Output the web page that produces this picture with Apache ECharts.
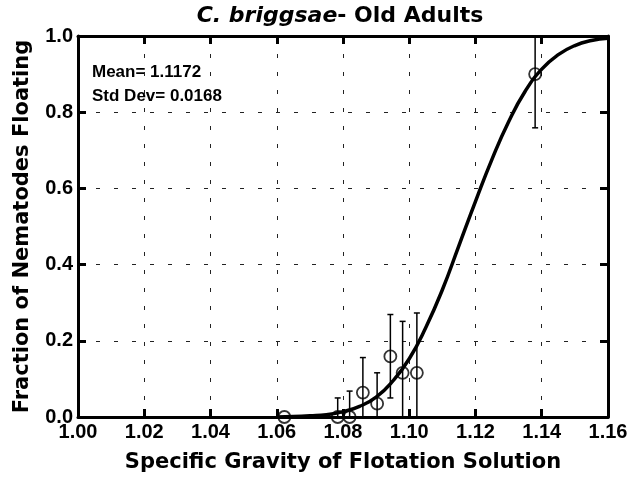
<!DOCTYPE html>
<html style="height: 100%">
<head>
    <meta charset="utf-8">
    <script src="https://cdn.jsdelivr.net/npm/echarts@6/dist/echarts.min.js"></script>
</head>
<body style="height: 100%;margin: 0;background: #fff">
<div id="chart1" style="width: 642px; height: 478px;"></div>
<script type="text/javascript">
// 观测点：比重、漂浮比例、误差棒上下限
var gravity   = [1.0623, 1.0784, 1.0820, 1.0860, 1.0903, 1.0943, 1.0980, 1.1023, 1.1380];
var fraction  = [0.000, 0.000, 0.000, 0.064, 0.035, 0.159, 0.116, 0.116, 0.900];
var errLow    = [0.000, 0.000, 0.000, 0.000, 0.000, 0.050, 0.000, 0.000, 0.759];
var errHigh   = [0.000, 0.050, 0.068, 0.156, 0.116, 0.269, 0.251, 0.273, 1.040];
// 拟合曲线
var curveX = [1.060, 1.065, 1.070, 1.075, 1.080, 1.085, 1.090, 1.095, 1.100, 1.105, 1.110,
              1.115, 1.120, 1.125, 1.130, 1.135, 1.140, 1.145, 1.150, 1.155, 1.160];
var curveY = [0.000, 0.001, 0.003, 0.006, 0.014, 0.028, 0.052, 0.094, 0.153, 0.235, 0.334,
              0.450, 0.566, 0.677, 0.775, 0.855, 0.913, 0.951, 0.975, 0.988, 0.994];
var xTicks = ['1.00', '1.02', '1.04', '1.06', '1.08', '1.10', '1.12', '1.14', '1.16'];
var yTicks = ['0.0', '0.2', '0.4', '0.6', '0.8', '1.0'];

var FONT = '"Liberation Sans", Arial, sans-serif';
var WIDE = '"DejaVu Sans", sans-serif';
var myChart = echarts.init(document.getElementById('chart1'));

var pts = gravity.map(function (g, i) { return [g, fraction[i]]; });
var bars = gravity.map(function (g, i) { return [g, errLow[i], errHigh[i]]; });
var line = curveX.map(function (x, i) { return [x, curveY[i]]; });

var gridLine = {show: true, lineStyle: {color: '#222', width: 1, type: [4, 14]}};
var frameLine = {show: true, onZero: false, lineStyle: {color: '#000', width: 3}};
var ticks = {show: true, inside: true, length: 8, lineStyle: {color: '#000', width: 3}};

var option = {
    animation: false,
    backgroundColor: '#fff',
    title: {
        text: '{i|C. briggsae}{b|- Old Adults}',
        left: 335, top: 0, textAlign: 'center',
        textStyle: {
            rich: {
                i: {fontFamily: WIDE, fontSize: 22, fontStyle: 'italic', fontWeight: 'bold', color: '#000'},
                b: {fontFamily: WIDE, fontSize: 22, fontWeight: 'bold', color: '#000'}
            }
        }
    },
    grid: {left: 78, right: 34, top: 36, bottom: 60, containLabel: false},
    xAxis: [{
        type: 'value', min: 1.00, max: 1.16, interval: 0.02,
        axisLine: frameLine, axisTick: ticks, splitLine: gridLine,
        axisLabel: {
            margin: 5, color: '#000', fontFamily: FONT, fontSize: 20, fontWeight: 'bold',
            formatter: function (v) { return xTicks[Math.round((v - 1.00) / 0.02)]; }
        },
        name: 'Specific Gravity of Flotation Solution',
        nameLocation: 'middle', nameGap: 35,
        nameTextStyle: {color: '#000', fontFamily: WIDE, fontSize: 21, fontWeight: 'bold'}
    }, {
        type: 'value', position: 'top', min: 1.00, max: 1.16, interval: 0.02,
        axisLine: frameLine, axisTick: ticks, axisLabel: {show: false}, splitLine: {show: false}
    }],
    yAxis: [{
        type: 'value', min: 0, max: 1, interval: 0.2,
        axisLine: frameLine, axisTick: ticks, splitLine: gridLine,
        axisLabel: {
            margin: 5, color: '#000', fontFamily: FONT, fontSize: 20, fontWeight: 'bold',
            formatter: function (v) { return yTicks[Math.round(v / 0.2)]; }
        },
        name: 'Fraction of Nematodes Floating',
        nameLocation: 'middle', nameGap: 45,
        nameTextStyle: {color: '#000', fontFamily: WIDE, fontSize: 21, fontWeight: 'bold'}
    }, {
        type: 'value', position: 'right', min: 0, max: 1, interval: 0.2,
        axisLine: frameLine, axisTick: ticks, axisLabel: {show: false}, splitLine: {show: false}
    }],
    graphic: [{
        type: 'text', left: 92, top: 64,
        style: {text: 'Mean= 1.1172', fill: '#000', font: 'bold 17px ' + FONT}
    }, {
        type: 'text', left: 92, top: 88,
        style: {text: 'Std Dev= 0.0168', fill: '#000', font: 'bold 17px ' + FONT}
    }],
    series: [{
        type: 'line', data: line, smooth: true, symbol: 'none', clip: true,
        lineStyle: {color: '#000', width: 3.5}, z: 3
    }, {
        type: 'custom', data: bars, clip: true, z: 4,
        renderItem: function (params, api) {
            var x = api.value(0);
            var lo = api.coord([x, api.value(1)]);
            var hi = api.coord([x, api.value(2)]);
            var w = 3;
            var style = {stroke: '#000', lineWidth: 1.5};
            return {
                type: 'group',
                children: [
                    {type: 'line', shape: {x1: lo[0], y1: lo[1], x2: hi[0], y2: hi[1]}, style: style},
                    {type: 'line', shape: {x1: hi[0] - w, y1: hi[1], x2: hi[0] + w, y2: hi[1]}, style: style},
                    {type: 'line', shape: {x1: lo[0] - w, y1: lo[1], x2: lo[0] + w, y2: lo[1]}, style: style}
                ]
            };
        }
    }, {
        type: 'scatter', data: pts, symbol: 'circle', symbolSize: 12, clip: false, z: 5,
        itemStyle: {color: 'rgba(0,0,0,0)', borderColor: '#000', borderWidth: 1.8}
    }]
};
myChart.setOption(option);
</script>
</body>
</html>
